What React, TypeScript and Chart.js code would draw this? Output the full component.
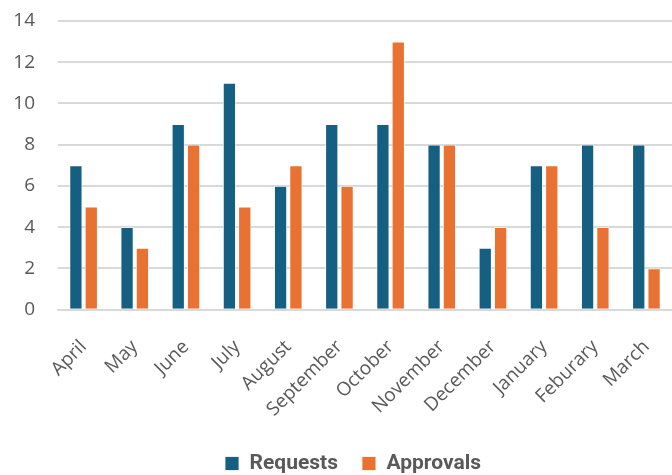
import React, { useEffect, useRef } from "react";
import { Chart, registerables } from "chart.js";

Chart.register(...registerables);

const months = ["April", "May", "June", "July", "August", "September", "October", "November", "December", "January", "Feburary", "March"];
const requests = [7, 4, 9, 11, 6, 9, 9, 8, 3, 7, 8, 8];
const approvals = [5, 3, 8, 5, 7, 6, 13, 8, 4, 7, 4, 2];
const yTicks = [0, 2, 4, 6, 8, 10, 12, 14];

const legendShift = {
  id: "legendShift",
  afterUpdate(chart: any) {
    const lg = chart.legend;
    if (!lg) return;
    lg.left += 12;
    lg.right += 12;
    lg.top += 9;
    lg.bottom += 9;
    if (lg.adjustHitBoxes) lg.adjustHitBoxes();
  },
};

export default function App() {
  const ref = useRef<HTMLCanvasElement>(null);
  useEffect(() => {
    if (!ref.current) return;
    const chart = new Chart(ref.current, {
      type: "bar",
      data: {
        labels: months,
        datasets: [
          { label: "Requests", data: requests, backgroundColor: "#156082", borderColor: "#ffffff", borderWidth: 0.8, categoryPercentage: 0.6, barPercentage: 0.84 },
          { label: "Approvals", data: approvals, backgroundColor: "#e97132", borderColor: "#ffffff", borderWidth: 0.8, categoryPercentage: 0.6, barPercentage: 0.84 },
        ],
      },
      plugins: [legendShift],
      options: {
        animation: false,
        responsive: false,
        maintainAspectRatio: false,
        layout: { padding: { left: 10, top: 21, right: 0, bottom: 0 } },
        plugins: {
          legend: {
            position: "bottom",
            labels: {
              boxWidth: 14,
              boxHeight: 14,
              padding: 24,
              color: "#595959",
              font: { family: "Roboto, sans-serif", size: 21, weight: "bold" },
            },
          },
          tooltip: { enabled: false },
        },
        scales: {
          x: {
            grid: { display: false },
            border: { display: true, color: "#d9d9d9", width: 2 },
            ticks: {
              color: "#595959",
              font: { family: "'Open Sans', sans-serif", size: 19 },
              maxRotation: 45,
              minRotation: 45,
              padding: 18,
            },
            afterFit: (axis: any) => {
              axis.paddingLeft = 0;
              axis.paddingRight = 0;
              axis.height -= 19;
            },
          },
          y: {
            min: 0,
            max: 14,
            afterBuildTicks: (axis: any) => {
              axis.ticks = yTicks.map((v) => ({ value: v }));
            },
            afterFit: (axis: any) => {
              axis.width = 48;
              axis.paddingTop = 0;
              axis.paddingBottom = 0;
            },
            grid: { color: "#d9d9d9", lineWidth: 2, drawTicks: false },
            border: { display: false },
            ticks: {
              color: "#595959",
              font: { family: "'Open Sans', sans-serif", size: 19 },
              padding: 23,
            },
          },
        },
      },
    });
    return () => chart.destroy();
  }, []);
  return (
    <div style={{ position: "absolute", left: 0, top: 0, width: 672, height: 475 }}>
      <canvas ref={ref} width={672} height={475} />
    </div>
  );
}
